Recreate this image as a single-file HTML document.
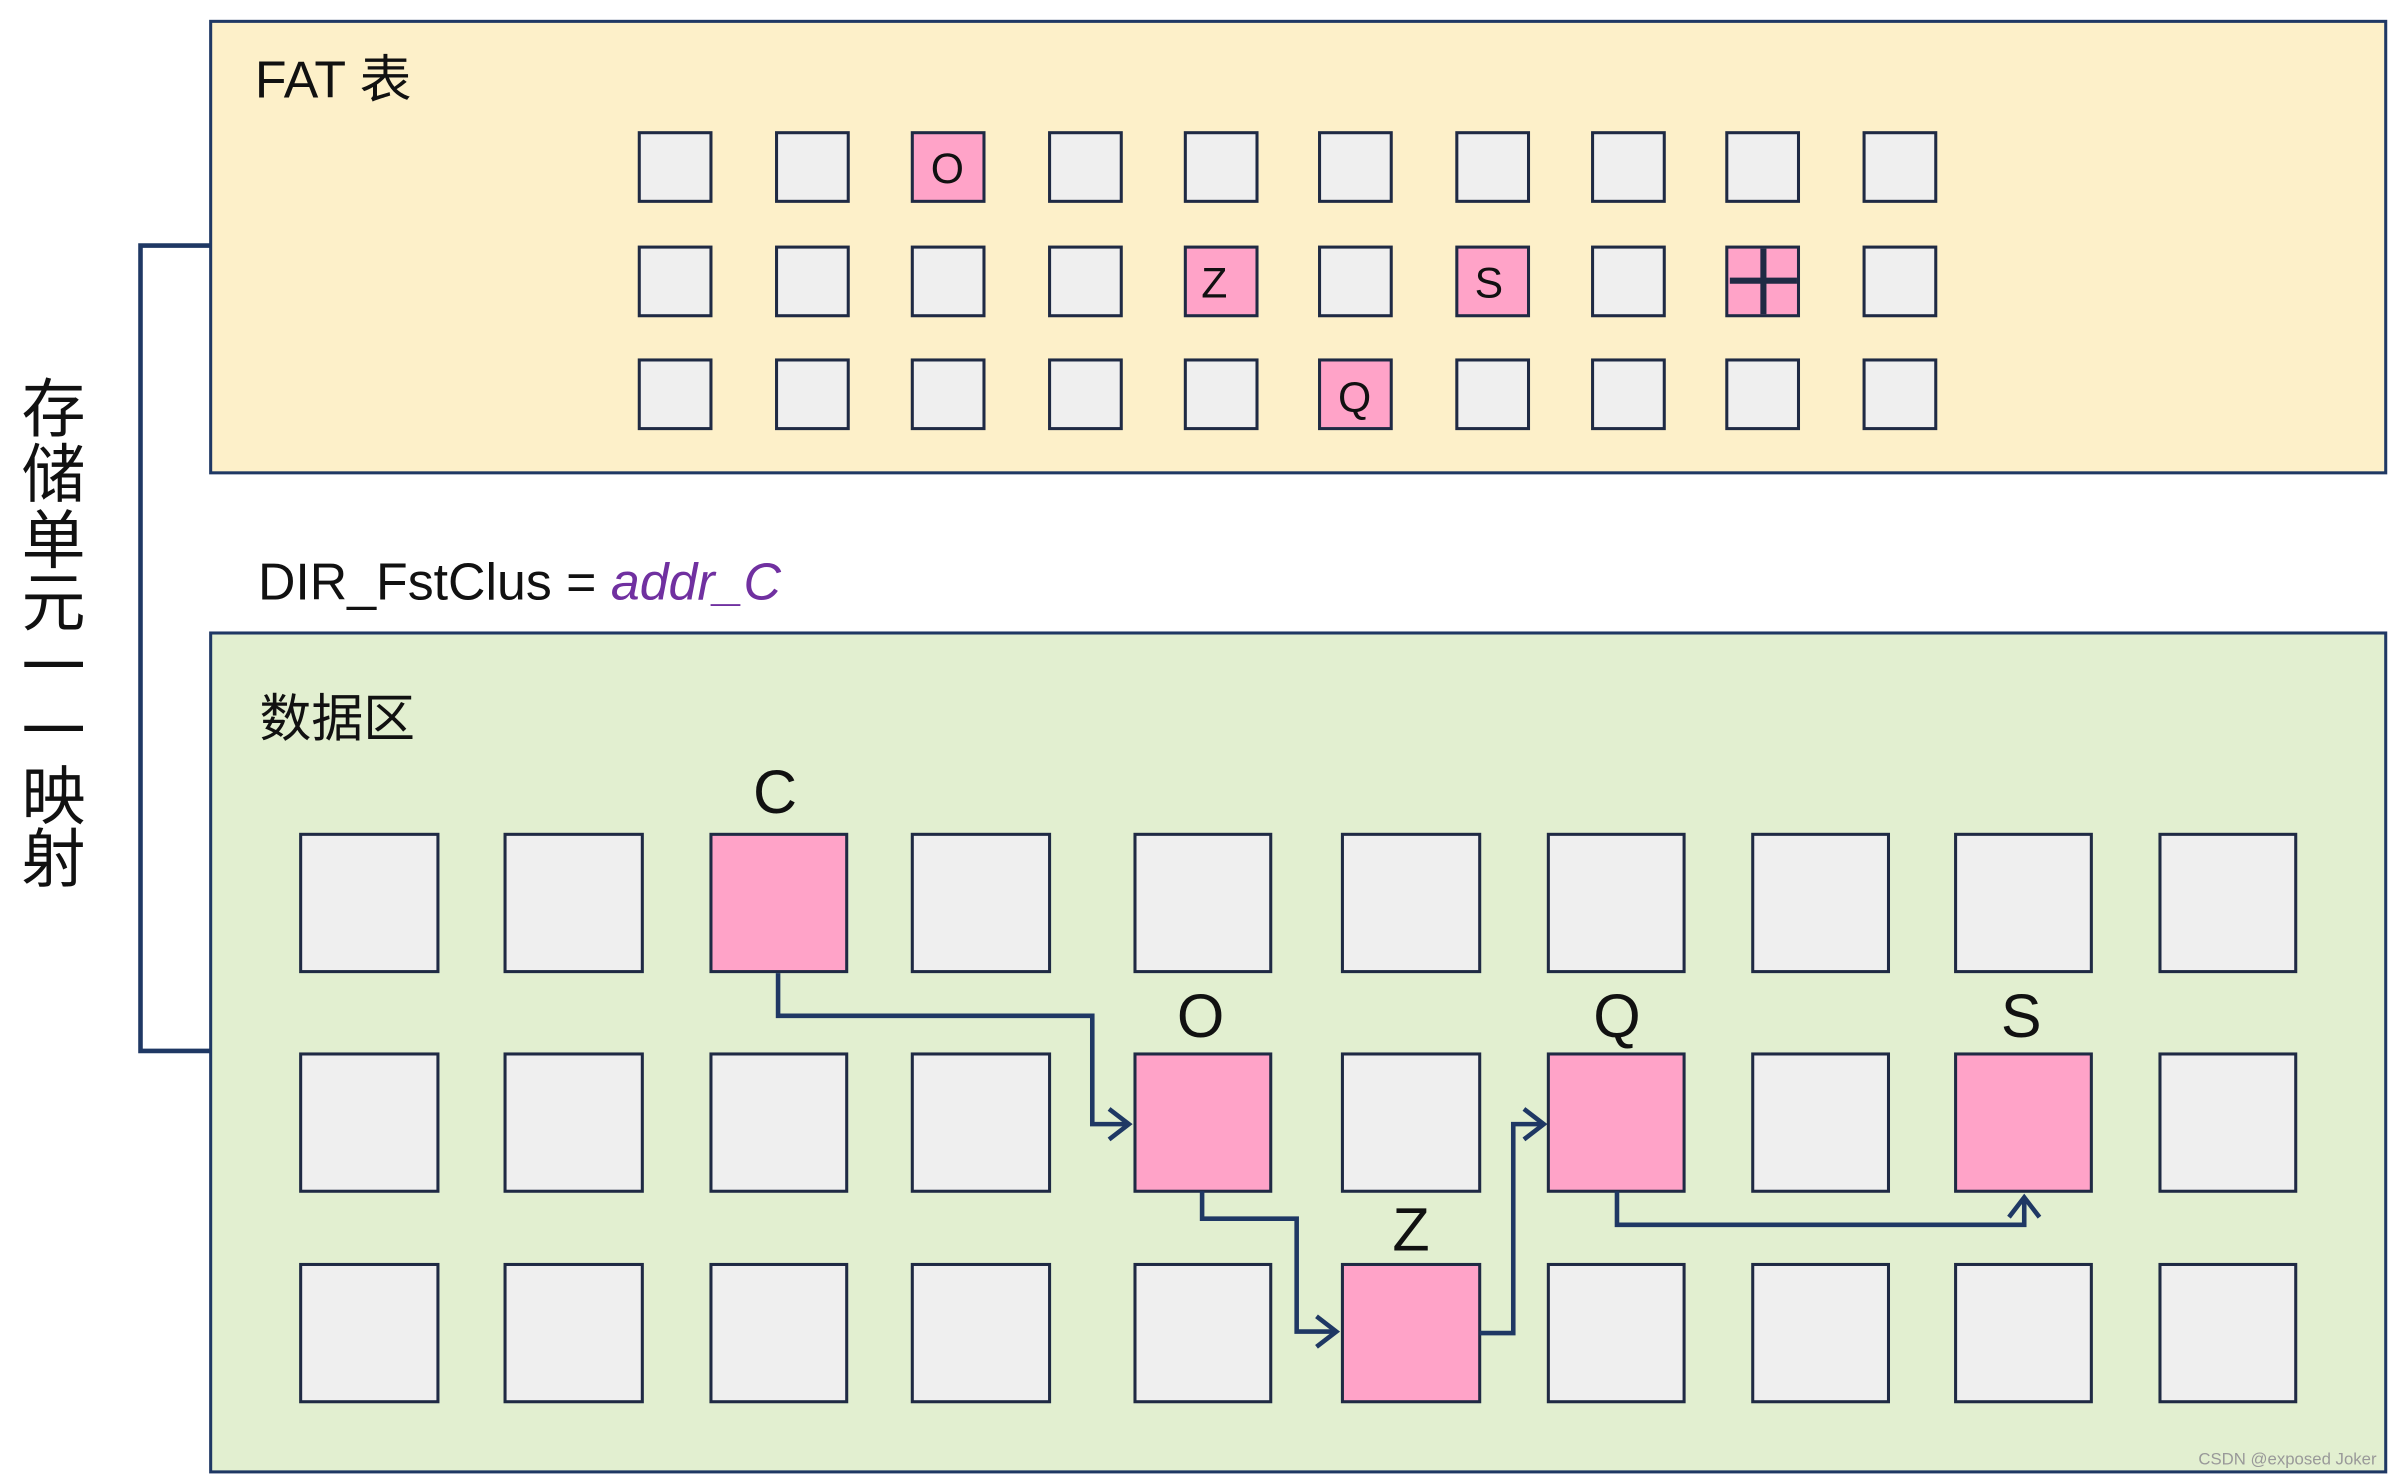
<!DOCTYPE html>
<html><head><meta charset="utf-8"><style>html,body{margin:0;padding:0;background:#fff}svg{display:block}</style></head><body>
<svg width="2392" height="1478" viewBox="0 0 1568 969" xmlns="http://www.w3.org/2000/svg" font-family="Liberation Sans, Noto Sans CJK SC, sans-serif">
<rect x="0" y="0" width="1568" height="969" fill="#fff"/>
<rect x="138" y="14" width="1426" height="296" fill="#fdf0c9" stroke="#1f3864" stroke-width="2"/>
<rect x="138" y="415" width="1426" height="550" fill="#e2efd0" stroke="#1f3864" stroke-width="2"/>
<path d="M138 161 H92 V689 H138" fill="none" stroke="#1f3864" stroke-width="3"/>
<g font-size="42" fill="#111" text-anchor="middle" font-family="Noto Sans CJK SC, sans-serif">
<text x="35" y="283">存</text><text x="35" y="326">储</text><text x="35" y="369">单</text><text x="35" y="410">元</text><text x="35" y="452">一</text><text x="35" y="494">一</text><text x="35" y="537">映</text><text x="35" y="578">射</text>
</g>
<text x="167" y="64" font-size="34" fill="#111">FAT 表</text>
<text x="169" y="393" font-size="34" fill="#111">DIR_FstClus = <tspan fill="#7030a0" font-style="italic">addr_C</tspan></text>
<text x="170" y="483" font-size="34" fill="#111" font-family="Noto Sans CJK SC, sans-serif">数据区</text>
<g stroke="#1f2a44" stroke-width="2" fill="#efefef">
<!-- FAT row boxes -->
<g id="fr">
<rect x="419" y="87" width="47" height="45"/><rect x="509" y="87" width="47" height="45"/><rect x="598" y="87" width="47" height="45" fill="#ffa3c8"/><rect x="688" y="87" width="47" height="45"/><rect x="777" y="87" width="47" height="45"/><rect x="865" y="87" width="47" height="45"/><rect x="955" y="87" width="47" height="45"/><rect x="1044" y="87" width="47" height="45"/><rect x="1132" y="87" width="47" height="45"/><rect x="1222" y="87" width="47" height="45"/>
<rect x="419" y="162" width="47" height="45"/><rect x="509" y="162" width="47" height="45"/><rect x="598" y="162" width="47" height="45"/><rect x="688" y="162" width="47" height="45"/><rect x="777" y="162" width="47" height="45" fill="#ffa3c8"/><rect x="865" y="162" width="47" height="45"/><rect x="955" y="162" width="47" height="45" fill="#ffa3c8"/><rect x="1044" y="162" width="47" height="45"/><rect x="1132" y="162" width="47" height="45" fill="#ffa3c8"/><rect x="1222" y="162" width="47" height="45"/>
<rect x="419" y="236" width="47" height="45"/><rect x="509" y="236" width="47" height="45"/><rect x="598" y="236" width="47" height="45"/><rect x="688" y="236" width="47" height="45"/><rect x="777" y="236" width="47" height="45"/><rect x="865" y="236" width="47" height="45" fill="#ffa3c8"/><rect x="955" y="236" width="47" height="45"/><rect x="1044" y="236" width="47" height="45"/><rect x="1132" y="236" width="47" height="45"/><rect x="1222" y="236" width="47" height="45"/>
</g>
<!-- data boxes -->
<rect x="197" y="547" width="90" height="90"/><rect x="331" y="547" width="90" height="90"/><rect x="466" y="547" width="89" height="90" fill="#ffa3c8"/><rect x="598" y="547" width="90" height="90"/><rect x="744" y="547" width="89" height="90"/><rect x="880" y="547" width="90" height="90"/><rect x="1015" y="547" width="89" height="90"/><rect x="1149" y="547" width="89" height="90"/><rect x="1282" y="547" width="89" height="90"/><rect x="1416" y="547" width="89" height="90"/>
<rect x="197" y="691" width="90" height="90"/><rect x="331" y="691" width="90" height="90"/><rect x="466" y="691" width="89" height="90"/><rect x="598" y="691" width="90" height="90"/><rect x="744" y="691" width="89" height="90" fill="#ffa3c8"/><rect x="880" y="691" width="90" height="90"/><rect x="1015" y="691" width="89" height="90" fill="#ffa3c8"/><rect x="1149" y="691" width="89" height="90"/><rect x="1282" y="691" width="89" height="90" fill="#ffa3c8"/><rect x="1416" y="691" width="89" height="90"/>
<rect x="197" y="829" width="90" height="90"/><rect x="331" y="829" width="90" height="90"/><rect x="466" y="829" width="89" height="90"/><rect x="598" y="829" width="90" height="90"/><rect x="744" y="829" width="89" height="90"/><rect x="880" y="829" width="90" height="90" fill="#ffa3c8"/><rect x="1015" y="829" width="89" height="90"/><rect x="1149" y="829" width="89" height="90"/><rect x="1282" y="829" width="89" height="90"/><rect x="1416" y="829" width="89" height="90"/>
</g>
<path d="M1156 163 V206 M1134 184 H1178" stroke="#1f2a44" stroke-width="4"/>
<g font-size="28" fill="#111" text-anchor="middle">
<text x="621" y="120">O</text><text x="796" y="195">Z</text><text x="976" y="195">S</text><text x="888" y="270">Q</text>
</g>
<g font-size="40" fill="#111" text-anchor="middle">
<text x="508" y="533">C</text><text x="787" y="680">O</text><text x="1060" y="680">Q</text><text x="1325" y="680">S</text><text x="925" y="820">Z</text>
</g>
<g fill="none" stroke="#1f3864" stroke-width="3">
<path d="M510 638 V666 H716 V737 H740"/><path d="M727 727 L740 737 L727 747"/>
<path d="M788 781 V799 H850 V873 H876"/><path d="M863 863 L876 873 L863 883"/>
<path d="M970 874 H992 V737 H1012"/><path d="M999 727 L1012 737 L999 747"/>
<path d="M1060 781 V803 H1327 V785"/><path d="M1317 798 L1327 785 L1337 798"/>
</g>
<text x="1558" y="960" font-size="11" fill="#999" text-anchor="end">CSDN @exposed Joker</text>
</svg>
</body></html>
